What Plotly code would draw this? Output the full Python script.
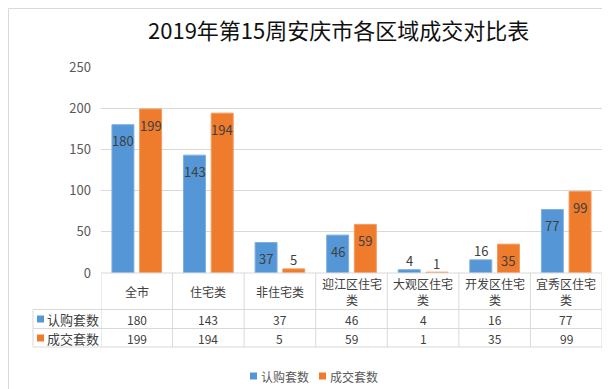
import plotly.graph_objects as go

categories = ["全市", "住宅类", "非住宅类", "迎江区住宅类", "大观区住宅类", "开发区住宅类", "宜秀区住宅类"]
header_labels = ["全市", "住宅类", "非住宅类", "迎江区住宅<br>类", "大观区住宅<br>类", "开发区住宅<br>类", "宜秀区住宅<br>类"]
series_names = ["认购套数", "成交套数"]
subscribed = [180, 143, 37, 46, 4, 16, 77]
closed = [199, 194, 5, 59, 1, 35, 99]
y_ticks = [0, 50, 100, 150, 200, 250]
title_text = "2019年第15周安庆市各区域成交对比表"

colors = ["#5596D6", "#EF7B2D"]
edge_colors = ["#7FB0E2", "#F49A5C"]
FONT = "Noto Sans CJK SC"
W, H = 610, 389
L, R, T, B = 93, 594, 59, 265  # plot area in pixels
BAR_W = 0.307
OFFSETS = [-0.347, 0.040]


def px(x):
    return (x - L) / (R - L)


def py(y):
    return (B - y) / (B - T)


xs = list(range(len(categories)))
series = [subscribed, closed]

fig = go.Figure()
annotations = []
for name, vals, c, ec, off in zip(series_names, series, colors, edge_colors, OFFSETS):
    fig.add_trace(go.Bar(
        x=xs, y=vals, name=name, width=BAR_W, offset=off,
        marker=dict(color=c, line=dict(color=ec, width=1)),
        hoverinfo="skip", showlegend=False,
    ))
    for i, v in zip(xs, vals):
        annotations.append(dict(x=i + off + BAR_W / 2, y=v, xref="x", yref="y",
                                text=str(v), showarrow=False,
                                yshift=-16 if v >= 20 else 9,
                                font=dict(family=FONT, size=13, color="#404040"),
                                xanchor="center", yanchor="middle"))

shapes = []
line_col = "#D9D9D9"
for i in range(len(categories) + 1):
    shapes.append(dict(type="line", xref="x", yref="paper",
                       x0=i - 0.5, x1=i - 0.5, y0=py(265), y1=py(339),
                       line=dict(color=line_col, width=1)))
shapes.append(dict(type="line", xref="paper", yref="paper",
                   x0=px(25), x1=px(25), y0=py(301.5), y1=py(339),
                   line=dict(color=line_col, width=1)))
shapes.append(dict(type="line", xref="paper", yref="paper",
                   x0=0, x1=1, y0=py(265), y1=py(265),
                   line=dict(color=line_col, width=1)))
for yy in [301.5, 320.5, 339]:
    shapes.append(dict(type="line", xref="paper", yref="paper",
                       x0=px(25), x1=1, y0=py(yy), y1=py(yy),
                       line=dict(color=line_col, width=1)))
for yy, c in zip([311, 330], colors):
    shapes.append(dict(type="rect", xref="paper", yref="paper",
                       x0=px(29), x1=px(36), y0=py(yy + 3.5), y1=py(yy - 3.5),
                       fillcolor=c, line=dict(width=0)))
for xx, c in zip([242, 311], colors):
    shapes.append(dict(type="rect", xref="paper", yref="paper",
                       x0=px(xx), x1=px(xx + 7), y0=py(368 + 3.5), y1=py(368 - 3.5),
                       fillcolor=c, line=dict(width=0)))
shapes.append(dict(type="rect", xref="paper", yref="paper",
                   x0=px(0.5), x1=px(608), y0=py(388), y1=py(0.5),
                   line=dict(color=line_col, width=1), fillcolor="rgba(0,0,0,0)"))

tfont = dict(family=FONT, size=12, color="#404040")
for i, lab in enumerate(header_labels):
    annotations.append(dict(x=i, y=py(283), xref="x", yref="paper", text=lab,
                            showarrow=False, font=tfont, align="center",
                            xanchor="center", yanchor="middle"))
rfont = dict(family=FONT, size=13, color="#404040")
for yy, name, vals in zip([311, 330], series_names, series):
    annotations.append(dict(x=px(37), y=py(yy), xref="paper", yref="paper", text=name,
                            showarrow=False, font=rfont, xanchor="left", yanchor="middle"))
    for i, v in enumerate(vals):
        annotations.append(dict(x=i, y=py(yy), xref="x", yref="paper", text=str(v),
                                showarrow=False, font=tfont, xanchor="center", yanchor="middle"))
for xx, name in zip([251, 320], series_names):
    annotations.append(dict(x=px(xx), y=py(368), xref="paper", yref="paper", text=name,
                            showarrow=False, font=dict(family=FONT, size=12, color="#595959"),
                            xanchor="left", yanchor="middle"))
annotations.append(dict(x=px(330), y=py(21), xref="paper", yref="paper", text=title_text,
                        showarrow=False, font=dict(family=FONT, size=22, color="#111111"),
                        xanchor="center", yanchor="middle"))

fig.update_layout(
    width=W, height=H,
    margin=dict(l=L, r=W - R, t=T, b=H - B),
    paper_bgcolor="white", plot_bgcolor="white",
    barmode="overlay",
    showlegend=False,
    xaxis=dict(range=[-0.5, len(categories) - 0.5], showticklabels=False, showgrid=False,
               zeroline=False, showline=False, fixedrange=True),
    yaxis=dict(range=[0, 250], tickvals=y_ticks, showgrid=True, gridcolor=line_col, gridwidth=1,
               zeroline=False, showline=False, ticks="", ticklabelstandoff=9,
               tickfont=dict(family=FONT, size=13, color="#595959")),
    shapes=shapes, annotations=annotations,
    font=dict(family=FONT),
)

fig.write_html("out.html")
